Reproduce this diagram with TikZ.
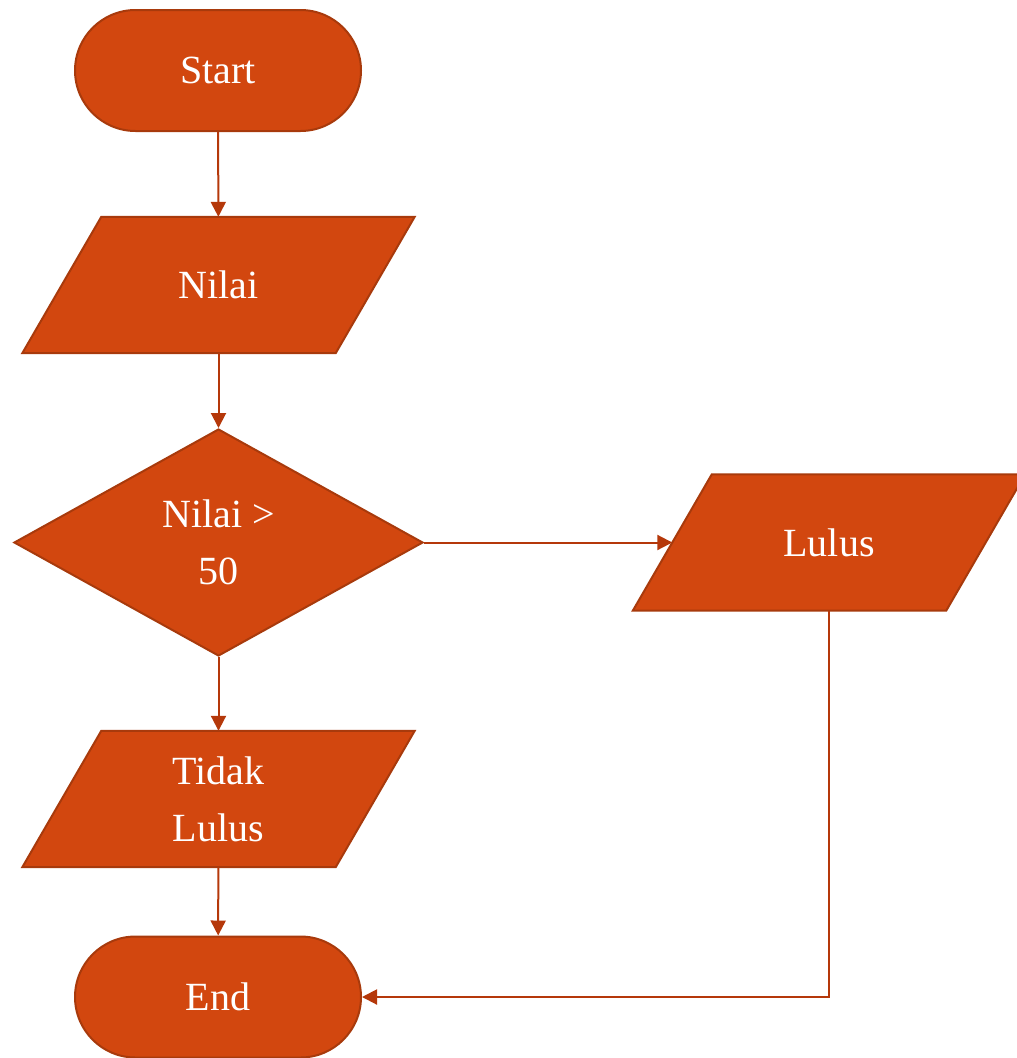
\documentclass[tikz,border=0pt]{standalone}
\usepackage{fontspec}
\setmainfont{Liberation Serif}
\usetikzlibrary{shapes.geometric,shapes.misc,arrows.meta,backgrounds}
\definecolor{fillc}{HTML}{D2470F}
\definecolor{edgec}{HTML}{A83A0C}
\definecolor{arrc}{HTML}{B5380A}
\tikzset{
  shapestyle/.style={fill=fillc, draw=edgec, line width=2pt},
  base/.style={text=white, align=center,
    font=\fontsize{40}{57}\selectfont, inner sep=0pt},
  term/.style={base, shapestyle, rounded rectangle, minimum width=286pt, minimum height=121pt},
  io/.style={base, rectangle, minimum width=313pt, minimum height=136pt},
  dec/.style={base, shapestyle, diamond, aspect=1.8, minimum width=409pt, minimum height=227pt},
  conn/.style={draw=arrc, line width=2pt, -{Triangle[length=15pt,width=15pt]}}
}
\newcommand{\parashape}[1]{%
  \draw[shapestyle, line join=miter]
    ([xshift=39.5pt]#1.north west) -- ([xshift=39.5pt]#1.north east) --
    ([xshift=-39.5pt]#1.south east) -- ([xshift=-39.5pt]#1.south west) -- cycle;}
\begin{document}
\begin{tikzpicture}[x=1pt,y=-1pt]
\useasboundingbox (0,0) rectangle (1017,1058);
\node[term] (start) at (218,70.5) {Start};
\node[io] (nilai) at (218.5,285) {Nilai};
\node[dec] (cek) at (218.5,542.5) {Nilai >\\50};
\node[io] (lulus) at (829,542.5) {Lulus};
\node[io] (tidak) at (218.5,799) {Tidak\\Lulus};
\node[term] (end) at (218,997) {End};
\begin{scope}[on background layer]
  \parashape{nilai}
  \parashape{lulus}
  \parashape{tidak}
\end{scope}
\coordinate (corner) at (829,997);
\draw[conn] (start) -- (nilai);
\draw[conn] (nilai) -- (cek);
\draw[conn] (cek) -- (lulus);
\draw[conn] (cek) -- (tidak);
\draw[conn] (tidak) -- (end);
\draw[conn] (lulus.south) -- (corner) -- (end.east);
\end{tikzpicture}
\end{document}
